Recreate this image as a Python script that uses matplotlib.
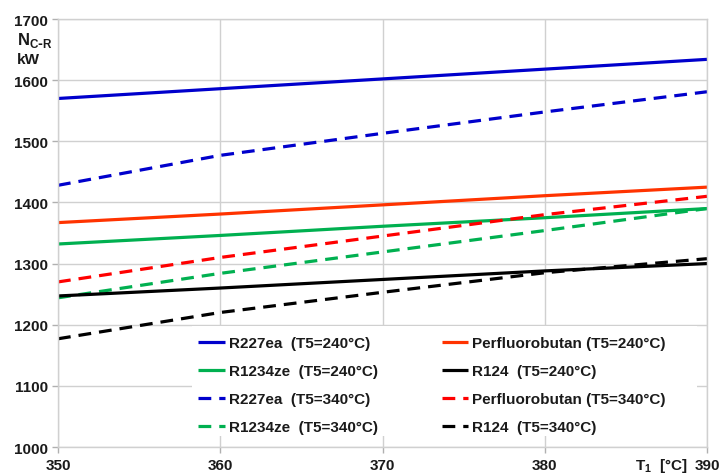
import matplotlib.pyplot as plt
from matplotlib.patches import Rectangle

plt.rcParams['font.family'] = ['Liberation Sans', 'DejaVu Sans']
plt.rcParams['font.weight'] = 'bold'

t1 = [350, 360, 370, 380, 390]

r227ea_240 = [1570, 1586, 1602, 1618, 1634]
perfluorobutan_240 = [1367, 1381, 1396, 1411, 1425]
r1234ze_240 = [1332, 1346, 1361, 1375, 1390]
r124_240 = [1247, 1260, 1274, 1288, 1300]
r227ea_340 = [1428, 1477, 1513, 1548, 1581]
perfluorobutan_340 = [1270, 1310, 1345, 1380, 1410]
r1234ze_340 = [1244, 1284, 1319, 1354, 1390]
r124_340 = [1177, 1220, 1253, 1285, 1308]

x_ticks = [350, 360, 370, 380, 390]
y_ticks = [1000, 1100, 1200, 1300, 1400, 1500, 1600, 1700]

series = [
    (r227ea_240, 'R227ea  (T5=240°C)', '#0000CC', '-'),
    (r1234ze_240, 'R1234ze  (T5=240°C)', '#00B050', '-'),
    (r227ea_340, 'R227ea  (T5=340°C)', '#0000CC', '--'),
    (r1234ze_340, 'R1234ze  (T5=340°C)', '#00B050', '--'),
    (perfluorobutan_240, 'Perfluorobutan (T5=240°C)', '#FF3300', '-'),
    (r124_240, 'R124  (T5=240°C)', '#000000', '-'),
    (perfluorobutan_340, 'Perfluorobutan (T5=340°C)', '#FF0000', '--'),
    (r124_340, 'R124  (T5=340°C)', '#000000', '--'),
]

W, H = 721, 477
fig = plt.figure(figsize=(W / 100, H / 100), dpi=100)
ax = fig.add_axes([58 / W, 1 - 448 / H, 649 / W, 428 / H])

for values, label, color, style in series:
    kw = dict(color=color, lw=2.3, label=label, solid_capstyle='butt',
              solid_joinstyle='round')
    if style == '--':
        kw['dashes'] = (4, 2.5)
    ax.plot(t1, values, **kw)

ax.set_xlim(350, 390)
ax.set_ylim(1000, 1700)
ax.set_xticks(x_ticks)
ax.set_yticks(y_ticks)
ax.grid(True, color='#D0D0D0', lw=1)
ax.set_axisbelow(True)
for s in ax.spines.values():
    s.set_color('#D0D0D0')
    s.set_linewidth(1)
ax.tick_params(axis='both', colors='#B0B0B0', length=4, width=1,
               labelcolor='#1a1a1a', labelsize=11)
ax.tick_params(axis='x', pad=4)
ax.tick_params(axis='y', pad=3)
for lab in ax.get_xticklabels() + ax.get_yticklabels():
    lab.set_fontweight('bold')

# axis titles
fig.text(17 / W, 1 - 40 / H, r'N$_{\mathregular{C\text{-}R}}$', fontsize=12,
         fontweight='bold', ha='left', va='center', color='#1a1a1a')
fig.text(17 / W, 1 - 60 / H, 'kW', fontsize=11, fontweight='bold',
         ha='left', va='center', color='#1a1a1a')
fig.text(688 / W, 1 - 466 / H, r'T$_{\mathregular{1}}$  [°C]', fontsize=11,
         fontweight='bold', ha='right', va='center', color='#1a1a1a')

# white legend panel
ax.add_patch(Rectangle((192 / W, 1 - 437 / H), (697 - 192) / W, (437 - 327) / H,
                       transform=fig.transFigure, facecolor='white',
                       edgecolor='none', zorder=4))

leg = ax.legend(ncol=2, loc='upper left',
                bbox_to_anchor=(198 / W, 1 - 337 / H),
                bbox_transform=fig.transFigure,
                frameon=False, fontsize=11, handlelength=1.75,
                handletextpad=0.25, labelspacing=0.92, borderpad=0,
                columnspacing=4.2, borderaxespad=0)
leg.set_zorder(5)
for txt in leg.get_texts():
    txt.set_fontweight('bold')
    txt.set_color('#1a1a1a')

fig.savefig('out.png', dpi=100)
